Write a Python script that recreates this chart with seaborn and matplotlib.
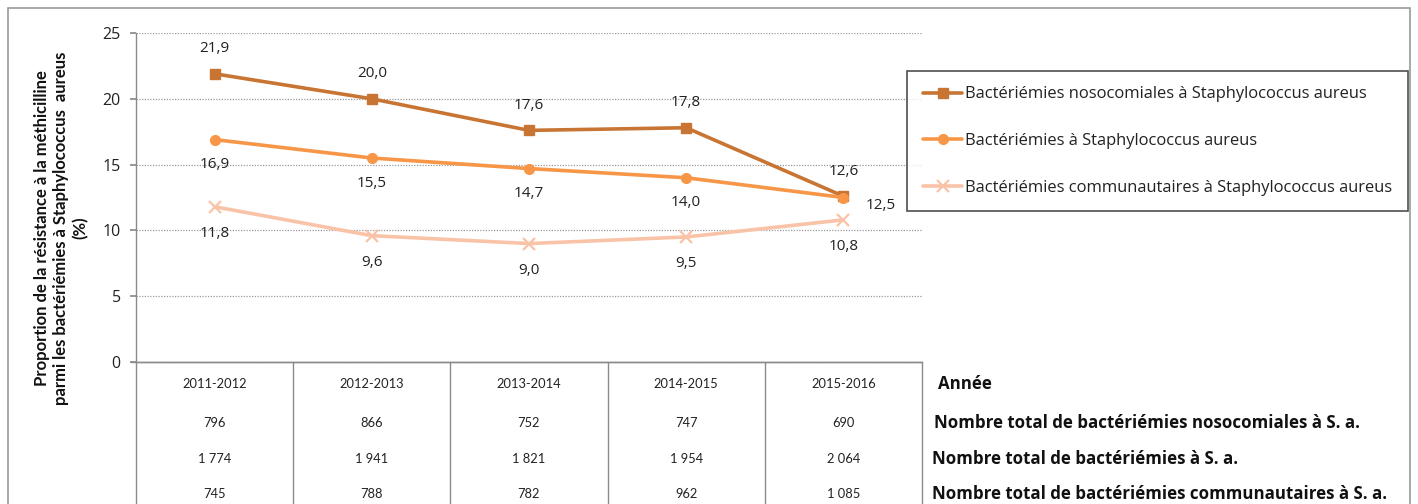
import numpy as np
import pandas as pd
import matplotlib
matplotlib.use("Agg")
import matplotlib.pyplot as plt
from matplotlib.patches import Rectangle
import seaborn as sns

# ---------------- data ----------------
years = ["2011-2012", "2012-2013", "2013-2014", "2014-2015", "2015-2016"]
noso = [21.9, 20.0, 17.6, 17.8, 12.6]
sa = [16.9, 15.5, 14.7, 14.0, 12.5]
comm = [11.8, 9.6, 9.0, 9.5, 10.8]
series_names = ["Bactériémies nosocomiales à Staphylococcus aureus",
                "Bactériémies à Staphylococcus aureus",
                "Bactériémies communautaires à Staphylococcus aureus"]
n_noso = ["796", "866", "752", "747", "690"]
n_sa = ["1 774", "1 941", "1 821", "1 954", "2 064"]
n_comm = ["745", "788", "782", "962", "1 085"]
row_labels = ["Année",
              "Nombre total de bactériémies nosocomiales à S. a.",
              "Nombre total de bactériémies à S. a.",
              "Nombre total de bactériémies communautaires à S. a."]
yticks = [0, 5, 10, 15, 20, 25]
ylabel = ("Proportion de la résistance à la méthicilline\n"
          "parmi les bactériémies à Staphylococcus  aureus\n(%)")

colors = ["#C87533", "#F79646", "#F9C3A8"]
markers = ["s", "o", "x"]
msizes = [7.5, 7, 9]

# ---------------- figure ----------------
sns.set_theme(style="white")
plt.rcParams["font.family"] = ["Open Sans", "DejaVu Sans"]

W, H = 1418, 504
fig = plt.figure(figsize=(W / 100, H / 100), dpi=100)
fig.patch.set_facecolor("white")

def px(x0, y0, x1, y1):
    return [x0 / W, 1 - y1 / H, (x1 - x0) / W, (y1 - y0) / H]

ax = fig.add_axes(px(136, 33, 922, 362))

xs = list(range(len(years)))
for name, vals, c, m, ms in zip(series_names, [noso, sa, comm], colors, markers, msizes):
    d = pd.DataFrame({"x": xs, "val": vals})
    sns.lineplot(data=d, x="x", y="val", color=c, marker=m, markersize=ms,
                 markerfacecolor=c, markeredgecolor=c,
                 markeredgewidth=1.6 if m == "x" else 1,
                 linewidth=2.6, errorbar=None, sort=False, label=name, ax=ax)

handles, labels = ax.get_legend_handles_labels()
if ax.get_legend() is not None:
    ax.get_legend().remove()

ax.set_xlim(-0.5, 4.5)
ax.set_ylim(0, 25)
ax.set_yticks(yticks)
ax.set_yticklabels([str(t) for t in yticks], fontsize=11.5, color="#222222")
ax.set_xticks([])
ax.set_xlabel("")
ax.set_ylabel("")
ax.yaxis.grid(True, linestyle=(0, (1, 1.2)), color="#9a9a9a", linewidth=0.9)
ax.set_axisbelow(True)
for s in ["top", "right"]:
    ax.spines[s].set_visible(False)
for s in ["left", "bottom"]:
    ax.spines[s].set_color("#8a8a8a")
    ax.spines[s].set_linewidth(1)
ax.tick_params(axis="y", left=True, length=4.5, color="#8a8a8a", pad=6.5)

# data labels
label_col = "#222222"
def lab(v):
    return f"{v:.1f}".replace(".", ",")

for i, v in enumerate(noso):
    ax.annotate(lab(v), (i, v), xytext=(0, 25), textcoords="offset pixels",
                ha="center", va="center", fontsize=11, color=label_col)
for i, v in enumerate(sa):
    off = (37, -8) if i == 4 else (0, -25)
    ax.annotate(lab(v), (i, v), xytext=off, textcoords="offset pixels",
                ha="center", va="center", fontsize=11, color=label_col)
for i, v in enumerate(comm):
    ax.annotate(lab(v), (i, v), xytext=(0, -27), textcoords="offset pixels",
                ha="center", va="center", fontsize=11, color=label_col)

# table below
trans = ax.get_xaxis_transform()
ax.vlines(np.arange(-0.5, 5.0, 1.0), 0, -0.45, transform=trans,
          colors="#8a8a8a", linewidth=1, clip_on=False)
ax.plot([-0.53, 4.5], [0, 0], transform=trans, color="#8a8a8a",
        linewidth=1, clip_on=False)
row_y = [(362 - 384) / 329, (362 - 423) / 329, (362 - 459) / 329, (362 - 494) / 329]
for r, vals in enumerate([years, n_noso, n_sa, n_comm]):
    for i, t in enumerate(vals):
        ax.text(i, row_y[r], t, transform=trans, ha="center", va="center",
                fontsize=9.3, color="#222222", clip_on=False,
                family=["Lato", "DejaVu Sans"])
row_px = [384, 423, 459, 494]
row_x = [938, 934, 932, 932]
for t, y, x in zip(row_labels, row_px, row_x):
    fig.text(x / W, 1 - y / H, t, ha="left", va="center", fontsize=12.2,
             fontweight="bold", color="#111111")

# y label
fig.text(61 / W, 1 - 228 / H, ylabel, rotation=90, ha="center", va="center",
         multialignment="center", fontsize=12, fontweight="bold",
         linespacing=1.25, color="#111111", family=["Lato", "DejaVu Sans"])

# legend
leg = fig.legend(handles, labels, loc="center left",
                 bbox_to_anchor=(907 / W, 1 - 212 / H, (1408 - 907) / W, 142 / H),
                 mode="expand", frameon=True, fancybox=False, fontsize=11.9,
                 handlelength=2.4, handletextpad=0.15, labelspacing=1.85,
                 borderpad=0.95, borderaxespad=0)
leg.get_frame().set_edgecolor("#222222")
leg.get_frame().set_linewidth(1.2)
for t in leg.get_texts():
    t.set_color("#222222")

# outer border
fig.patches.append(Rectangle((8 / W, -0.1), (1410 - 8) / W, 1 - 8 / H + 0.1,
                             transform=fig.transFigure, fill=False,
                             edgecolor="#9a9a9a", linewidth=1.2, zorder=0))

fig.savefig("out.png", dpi=100, facecolor="white")
